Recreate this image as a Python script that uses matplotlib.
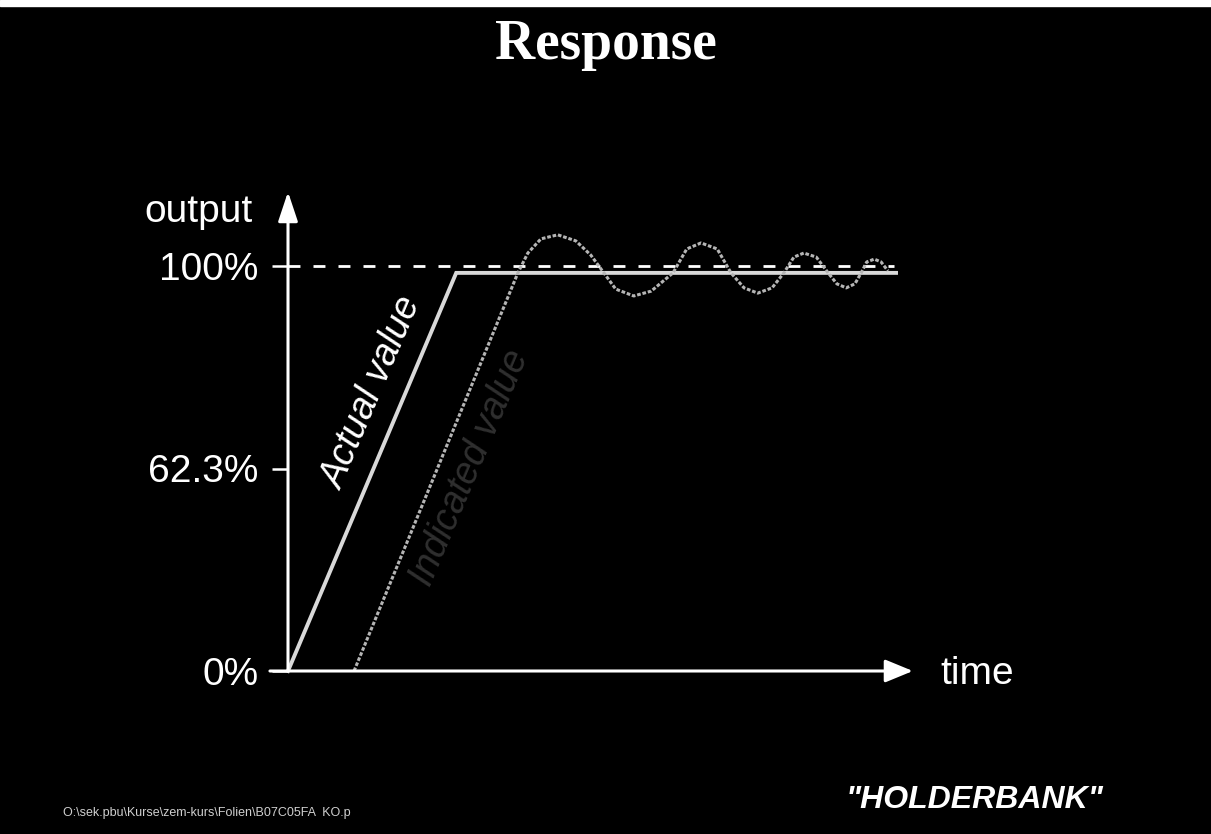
import matplotlib
matplotlib.use("Agg")
import matplotlib.pyplot as plt
from matplotlib.patches import Rectangle

# values (time in arbitrary units, output in % of full scale)
actual_t = [0.0, 2.70, 9.76]
actual_y = [0.0, 98.3, 98.3]

indicated_t = [1.06, 3.69, 3.85, 4.06, 4.33, 4.62, 4.86, 5.07, 5.26, 5.55, 5.83,
               6.18, 6.40, 6.63, 6.89, 7.11, 7.32, 7.54, 7.77, 7.96, 8.12, 8.28,
               8.48, 8.67, 8.81, 8.96, 9.10, 9.20, 9.29, 9.41, 9.52, 9.63]
indicated_y = [0.0, 98.3, 103.2, 106.7, 107.7, 106.2, 102.7, 98.3, 94.3, 92.6, 93.8,
               98.3, 104.2, 105.7, 104.2, 98.3, 94.6, 93.3, 94.6, 98.3, 102.2, 103.2,
               102.2, 98.3, 95.6, 94.6, 95.6, 98.3, 101.0, 101.7, 101.0, 98.8]

setpoint = 100.0
setpoint_end = 9.73
tick_pos = [0, 50, 100]
tick_labels = ["0%", "62.3%", "100%"]

W, H = 1211, 834
fig = plt.figure(figsize=(W / 100, H / 100), dpi=100, facecolor="black")
# axes frame spans origin (288,671) to t=10 / 100% (911,266) in pixels
ax = fig.add_axes([288 / W, (H - 671) / H, (911 - 288) / W, (671 - 266) / H])
ax.set_facecolor("black")
ax.set_xlim(0, 10)
ax.set_ylim(0, 100)
for s in ax.spines.values():
    s.set_visible(False)
ax.set_xticks([])
ax.set_yticks(tick_pos, tick_labels)
ax.tick_params(axis="y", colors="white", length=11.5, width=1.8, pad=10,
               labelsize=28)
for lab in ax.get_yticklabels():
    lab.set_family("Liberation Sans")

white = "white"
# axes with arrowheads
ax.annotate("", xy=(0, 118.3), xytext=(0, 0), annotation_clip=False,
            arrowprops=dict(arrowstyle="-|>,head_length=1.8,head_width=0.6",
                            lw=2.2, color=white, shrinkA=0, shrinkB=0))
ax.annotate("", xy=(10.03, 0), xytext=(-0.29, 0), annotation_clip=False,
            arrowprops=dict(arrowstyle="-|>,head_length=1.7,head_width=0.7",
                            lw=2.2, color=white, shrinkA=0, shrinkB=0))

ax.plot([0, setpoint_end], [setpoint, setpoint], color=white, lw=2,
        ls=(0, (4.3, 4.7)), clip_on=False)
ax.plot(actual_t, actual_y, color="#d9d9d9", lw=2.8, clip_on=False,
        solid_joinstyle="miter")
ax.plot(indicated_t, indicated_y, color="#b5b5b5", lw=2.2, clip_on=False,
        ls=(0, (1.2, 0.6)))

font = "Liberation Sans"
ax.text(-0.56, 110.9, "output", color=white, fontsize=28, family=font,
        ha="right", va="baseline", clip_on=False)
ax.text(10.47, -3.2, "time", color=white, fontsize=28, family=font,
        ha="left", va="baseline", clip_on=False)
ax.text(1.36, 68.6, "Actual value", color=white, fontsize=27, family=font,
        style="italic", rotation=67, rotation_mode="anchor",
        ha="center", va="center")
ax.text(2.92, 50.1, "Indicated value", color="#2f2f2f", fontsize=27, family=font,
        style="italic", rotation=67, rotation_mode="anchor",
        ha="center", va="center")

fig.text(0.5, 1 - 45 / H, "Response", color=white, fontsize=40,
         family="Liberation Serif", weight="bold", ha="center", va="center")
fig.text(63 / W, 1 - 813 / H, r"O:\sek.pbu\Kurse\zem-kurs\Folien\B07C05FA  KO.p",
         color="#cfcfcf", fontsize=9, family=font, ha="left", va="center")
fig.text(975 / W, 1 - 800 / H, '"HOLDERBANK"', color=white, fontsize=23,
         family=font, weight="bold", style="italic", ha="center", va="center")
fig.patches.append(Rectangle((0, 1 - 6 / H), 1, 6 / H, transform=fig.transFigure,
                             color="white", zorder=5))

fig.savefig("out.png", dpi=100, facecolor="black")
